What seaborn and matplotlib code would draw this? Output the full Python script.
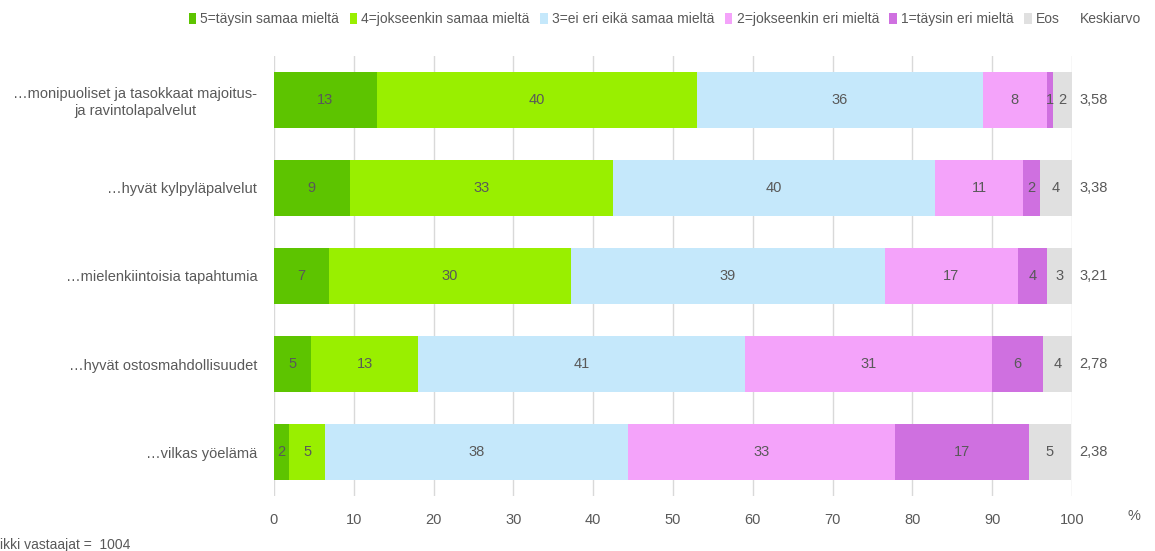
import pandas as pd
import matplotlib.pyplot as plt
import seaborn as sns

categories = ['…monipuoliset ja tasokkaat majoitus-\nja ravintolapalvelut',
              '…hyvät kylpyläpalvelut',
              '…mielenkiintoisia tapahtumia',
              '…hyvät ostosmahdollisuudet',
              '…vilkas yöelämä']
series = ['5=täysin samaa mieltä', '4=jokseenkin samaa mieltä', '3=ei eri eikä samaa mieltä',
          '2=jokseenkin eri mieltä', '1=täysin eri mieltä', 'Eos']
values = {
    '5=täysin samaa mieltä': [12.9, 9.5, 6.9, 4.7, 1.9],
    '4=jokseenkin samaa mieltä': [40.1, 33.0, 30.3, 13.4, 4.5],
    '3=ei eri eikä samaa mieltä': [35.8, 40.3, 39.4, 40.9, 38.0],
    '2=jokseenkin eri mieltä': [8.1, 11.1, 16.6, 31.0, 33.4],
    '1=täysin eri mieltä': [0.7, 2.1, 3.7, 6.4, 16.8],
    'Eos': [2.4, 4.0, 3.2, 3.6, 5.3],
}
labels = {
    '5=täysin samaa mieltä': [13, 9, 7, 5, 2],
    '4=jokseenkin samaa mieltä': [40, 33, 30, 13, 5],
    '3=ei eri eikä samaa mieltä': [36, 40, 39, 41, 38],
    '2=jokseenkin eri mieltä': [8, 11, 17, 31, 33],
    '1=täysin eri mieltä': [1, 2, 4, 6, 17],
    'Eos': [2, 4, 3, 4, 5],
}
means = ['3,58', '3,38', '3,21', '2,78', '2,38']
colors = ['#5dc400', '#99ef00', '#c5e8fb', '#f4a3fa', '#cf70e0', '#e0e0e0']
txt = '#595959'
fs = 10.5

df = pd.DataFrame(values, index=categories)
cum = df.cumsum(axis=1)

plt.rcParams['font.family'] = ['Liberation Sans', 'DejaVu Sans']
fig, ax = plt.subplots(figsize=(11.55, 5.51), dpi=100)
fig.subplots_adjust(left=0.2372, right=0.9281, top=0.8984, bottom=0.0998)

# stacked bars: draw cumulative totals from the longest down
for s, c in reversed(list(zip(series, colors))):
    d = pd.DataFrame({'cat': categories, 'val': cum[s].values})
    sns.barplot(data=d, x='val', y='cat', color=c, width=0.64, saturation=1,
                linewidth=0, ax=ax, label=s, zorder=2)

# segment labels
for s in series:
    for i, cat in enumerate(categories):
        w = df.loc[cat, s]
        ax.text(cum.loc[cat, s] - w / 2, i, str(labels[s][i]), ha='center', va='center',
                fontsize=fs, color=txt, zorder=3)

for i, m in enumerate(means):
    ax.text(1.009, i, m, transform=ax.get_yaxis_transform(), ha='left', va='center',
            fontsize=fs, color=txt)

ax.set_xlim(0, 100)
ax.set_ylim(4.5, -0.5)
ax.set_xticks(range(0, 101, 10))
ax.grid(axis='x', color='#d9d9d9', linewidth=1, zorder=0)
ax.set_axisbelow(True)
ax.set_xlabel('')
ax.set_ylabel('')
for sp in ax.spines.values():
    sp.set_visible(False)
ax.tick_params(axis='x', length=0, pad=12, labelsize=fs, labelcolor=txt)
ax.tick_params(axis='y', length=0, pad=12, labelsize=fs, labelcolor=txt)
for lab in ax.get_yticklabels():
    lab.set_multialignment('center')

handles, hl = ax.get_legend_handles_labels()
order = [hl.index(s) for s in series]
ax.legend([handles[k] for k in order], series, loc='lower left', bbox_to_anchor=(-0.114, 1.055),
          ncol=6, frameon=False, fontsize=10, handlelength=0.55, handleheight=0.9,
          handletextpad=0.3, columnspacing=0.75, labelcolor=txt, borderaxespad=0)

fig.text(1080 / 1155, 1 - 19 / 551, 'Keskiarvo', fontsize=10, color=txt, ha='left', va='center')
fig.text(1128 / 1155, 1 - 516 / 551, '%', fontsize=fs, color=txt, ha='left', va='center')
fig.text(0.0, 1 - 545 / 551, 'ikki vastaajat =  1004', fontsize=10, color=txt, ha='left', va='center')

plt.savefig('out.png', dpi=100)
